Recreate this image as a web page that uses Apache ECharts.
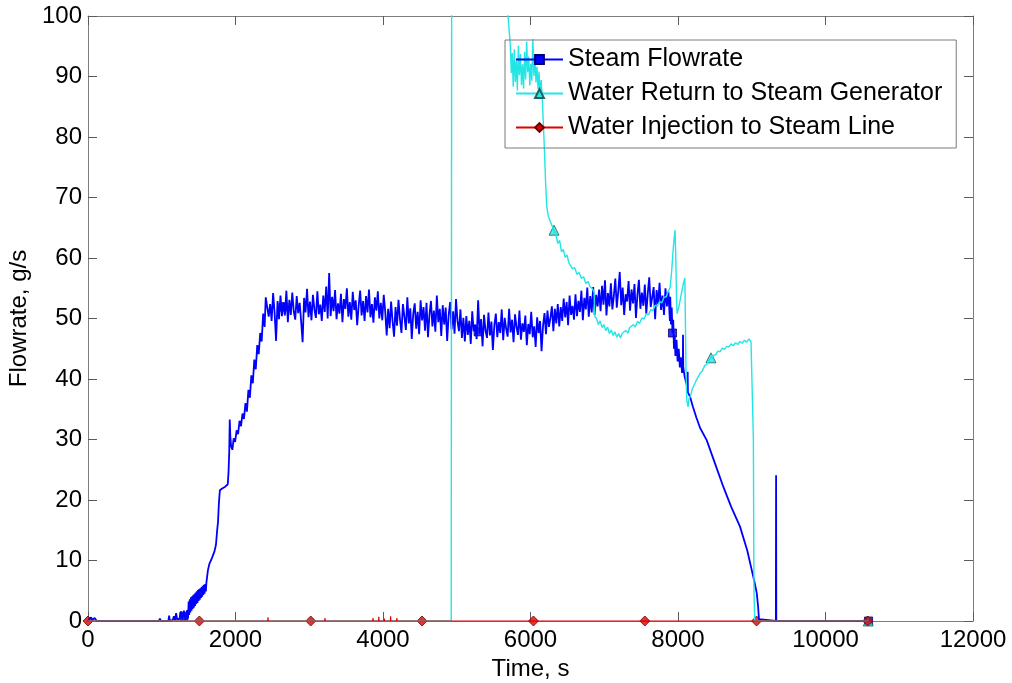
<!DOCTYPE html>
<html>
<head>
<meta charset="utf-8">
<script src="https://cdn.jsdelivr.net/npm/echarts@6/dist/echarts.min.js"></script>
<style>
  html, body { margin: 0; padding: 0; background: #ffffff; }
  #chart { width: 1012px; height: 683px; }
</style>
</head>
<body>
<div id="chart"></div>
<script>
// ---- Series names and axis titles ----
const seriesNames = [
  'Steam Flowrate',
  'Water Return to Steam Generator',
  'Water Injection to Steam Line'
];
const xTitle = 'Time, s';
const yTitle = 'Flowrate, g/s';
const xRange = [0, 12000];   // time, s
const xStep = 2000;
const yRange = [0, 100];     // g/s
const yStep = 10;

// ---- Steam flowrate: start-up ramp, [time s, g/s] ----
const steamRise = [
  [0,0],[40,0.6],[60,0.2],[90,0.5],[120,0],[290,0],[300,0.3],[310,0],[960,0],[975,0.4],[990,0],
  [1090,0],[1100,0.9],[1110,0],[1150,0.2],[1165,0.8],[1180,0.1],[1195,1.3],[1210,0.2],[1240,0.4],
  [1260,1.6],[1280,0.3],[1300,1.7],[1320,0.2],[1345,1.8],[1356,0.4],[1365,3.2],[1372,1.0],[1380,3.6],
  [1388,1.4],[1396,3.9],[1404,1.7],[1412,4.1],[1420,2.0],[1428,4.3],[1436,2.2],[1444,4.5],[1452,2.5],
  [1460,4.7],[1468,2.8],[1476,4.9],[1484,3.0],[1492,5.1],[1500,3.3],[1508,5.3],[1516,3.5],[1524,5.4],
  [1532,3.8],[1540,5.6],[1548,4.0],[1556,5.8],[1564,4.3],[1572,6.0],[1580,4.5],[1590,6.1],[1598,4.9],
  [1605,6.3],[1612,7.0],[1625,8.3],[1645,9.4],[1680,10.4],
  [1715,11.5],[1735,12.6],[1750,14.8],[1763,16.4],[1775,19.5],[1788,21.6],[1820,21.9],[1860,22.2],
  [1895,22.6],[1905,24.5],[1915,27.8],[1922,33.3],[1930,30.5],[1940,28.9],[1958,28.3],[1975,30.2],
  [1995,29.6],[2015,31.5],[2035,30.9],[2055,33.1],[2075,32.2],[2095,34.3],[2115,33.4],[2135,36.0],
  [2155,34.6],[2175,38.2],[2195,36.9],[2215,40.6],[2235,39.3],[2255,43.2],[2275,41.6],[2295,45.6],
  [2315,44.1],[2335,47.6],[2355,46.2],[2375,50.8],[2395,48.6],[2410,53.5]
];

// ---- Steam flowrate: steady period, logged every 20 s from 2430 s ----
const steamSteadyStart = 2430;
const steamSteadyStep = 20;
const steamSteady = [
  // 2430 - 2690
  53.6,50.3,52.4,49.6,54.2,51.0,46.3,52.9,49.9,53.8,50.4,52.7,50.5,54.6,
  // 2710 - 4030
  49.4,53.1,50.6,54.3,51.2,49.8,53.7,50.9,52.6,49.5,
  46.1,53.4,51.0,54.9,50.2,52.8,49.7,53.9,51.5,50.1,
  54.5,50.7,52.3,49.6,53.8,51.1,55.3,50.0,57.5,50.4,
  53.6,51.2,54.7,49.9,52.5,50.8,54.1,49.4,53.2,51.6,
  55.0,50.3,52.7,49.8,54.4,51.4,53.0,48.9,52.1,54.6,
  50.5,52.9,49.6,53.7,51.0,54.8,50.2,52.4,49.3,53.5,
  51.3,54.5,50.0,52.6,49.7,53.9,51.2,
  // 4050 - 5090
  47.2,51.6,48.4,52.8,49.5,47.0,51.9,48.8,53.1,49.9,
  47.6,52.4,50.3,48.1,53.5,49.2,51.7,46.6,50.8,52.5,
  48.3,51.1,47.4,53.0,49.7,51.9,48.0,52.6,46.9,50.6,
  52.9,48.7,51.3,47.8,53.8,49.4,51.6,47.1,52.2,49.0,
  51.8,46.3,50.5,52.7,48.2,51.2,47.5,53.2,49.6,47.9,
  51.5,46.8,50.1,
  // 5110 - 6190
  46.2,50.4,47.3,49.6,45.8,51.2,47.9,49.0,46.6,53.0,
  47.5,49.9,45.4,50.6,48.0,46.8,51.0,47.2,49.5,44.8,
  48.9,50.8,46.9,49.4,47.6,51.5,46.4,50.1,48.3,47.0,
  51.6,47.7,49.8,46.1,50.7,48.6,47.3,51.3,46.5,49.2,
  47.8,50.5,45.6,49.1,47.4,51.1,46.9,48.7,45.3,50.2,
  47.6,49.6,44.6,48.8,50.9,
  // 6210 - 6930
  47.4,51.3,48.6,50.1,52.0,47.9,51.6,49.2,52.4,48.7,
  51.9,49.6,53.3,50.2,52.7,48.9,53.8,50.6,52.1,49.8,
  54.0,50.4,52.9,51.1,54.6,49.7,53.4,51.5,55.1,50.3,
  53.7,51.0,55.2,50.6,53.9,52.0,54.8,
  // 6950 - 7890
  51.2,55.4,52.3,56.3,50.5,54.2,52.0,55.8,51.5,53.7,
  56.6,51.8,54.5,57.7,52.2,55.1,50.6,54.0,52.8,56.2,
  51.3,54.8,52.5,55.7,50.1,53.9,56.4,51.6,54.3,52.1,
  55.6,50.8,54.1,56.8,51.9,53.5,55.2,49.9,54.7,52.4,
  55.9,51.4,53.8,50.6,55.0,52.0,54.4,49.6
];

// ---- Steam flowrate: shutdown, [time s, g/s] ----
const steamFall = [
  [7895,53.6],[7905,49.0],[7915,51.8],[7925,47.6],[7935,49.8],[7945,45.0],[7955,47.2],[7965,43.8],
  [7980,46.5],[7995,42.9],[8010,45.0],[8025,41.9],[8040,43.6],[8055,41.0],[8066,42.2],[8068,47.3],
  [8071,42.0],[8090,40.4],[8110,39.4],[8128,38.6],[8131,41.2],[8134,37.8],[8163,37.1],[8200,35.5],
  [8250,33.6],[8300,31.9],[8389,29.9],[8500,26.1],[8614,22.2],[8720,18.9],[8841,15.6],[8940,11.6],
  [9021,7.3],[9045,6.0],[9068,4.6],[9086,2.4],[9098,0.3],[9110,0],[9327,0],[9330,24.1],[9333,0],
  [10584,0]
];

// ---- Water return to steam generator, [time s, g/s] (105 = above the axis top) ----
const waterReturn = [
  [0,0],[4925,0],[4931,105],[5688,105],[5698,99.6],[5712,97.4],[5726,95.2],[5740,90.6],[5752,93.9],
  [5766,88.3],[5780,94.5],[5794,89.1],[5808,92.6],[5822,87.7],[5836,95.1],[5850,90.2],[5864,93.7],
  [5878,88.6],[5892,92.0],[5906,88.0],[5920,94.1],[5934,89.5],[5948,95.8],[5962,90.7],[5976,93.3],
  [5990,88.5],[6004,92.1],[6018,89.3],[6032,96.2],[6046,90.1],[6060,93.4],[6074,89.0],[6088,91.6],
  [6102,87.9],[6116,90.8],[6130,87.2],[6145,89.4],[6160,86.3],[6175,82.0],[6190,77.5],[6205,72.4],
  [6220,68.6],[6240,67.0],[6265,66.1],[6290,65.8],[6319,64.6],[6345,63.8],[6370,62.4],[6395,62.9],
  [6420,61.0],[6445,61.4],[6470,60.1],[6495,60.5],[6520,59.2],[6545,59.5],[6570,58.2],[6600,58.4],
  [6630,57.3],[6660,57.6],[6690,56.6],[6720,56.9],[6750,55.8],[6780,56.1],[6810,55.2],[6840,54.9],
  [6862,54.3],[6872,50.4],[6895,50.0],[6920,49.0],[6945,49.6],[6970,48.5],[6995,49.0],[7020,48.0],
  [7045,48.6],[7070,47.5],[7095,48.1],[7120,47.2],[7145,47.8],[7170,46.9],[7195,47.5],[7220,46.8],
  [7245,47.6],[7270,47.3],[7295,48.0],[7320,47.6],[7345,48.5],[7370,48.2],[7395,49.0],[7420,48.6],
  [7450,49.5],[7480,49.2],[7510,50.1],[7540,49.9],[7570,50.8],[7600,50.6],[7630,51.5],[7660,51.3],
  [7690,52.2],[7720,52.0],[7750,52.8],[7780,52.6],[7810,53.5],[7840,53.6],[7870,54.5],[7895,55.2],
  [7915,58.0],[7935,61.5],[7950,63.5],[7960,64.6],[7970,60.0],[7980,53.5],[7988,50.8],[8010,51.8],
  [8035,53.4],[8060,55.0],[8080,56.1],[8093,56.7],[8100,50.0],[8108,42.0],[8118,36.6],[8136,35.4],
  [8150,36.8],[8170,37.2],[8195,38.4],[8220,38.6],[8245,39.7],[8270,40.0],[8300,41.0],[8330,41.3],
  [8360,42.2],[8390,42.4],[8420,43.1],[8450,43.5],[8480,43.9],[8510,44.0],[8540,44.6],[8570,44.5],
  [8600,45.1],[8630,44.9],[8660,45.4],[8690,45.3],[8720,45.8],[8750,45.5],[8780,46.0],[8810,45.7],
  [8840,46.2],[8870,45.9],[8900,46.4],[8930,46.1],[8960,46.6],[8990,46.2],[9015,46.5],[9022,30.0],
  [9030,5.0],[9040,0],[10584,0]
];

// ---- Water injection to steam line, [time s, g/s] ----
const waterInjection = [
  [0,0],[2438,0],[2441,0.6],[2444,0],[3210,0],[3213,0.5],[3216,0],[3862,0],[3865,0.5],[3868,0],
  [3940,0],[3943,0.7],[3946,0],[4015,0],[4018,0.4],[4021,0],[4100,0],[4103,0.8],[4106,0],
  [4185,0],[4188,0.5],[4191,0],[10620,0]
];

// ---- Marker positions on each trace, [time s, g/s] ----
const steamMarks = [[1300,0.8],[2644,51.9],[5290,47.8],[7925,47.6],[10584,0]];
const returnMarks = [[6319,64.6],[8447,43.5],[10580,0]];
const injectionMarks = [[0,0],[1510,0],[3020,0],[4530,0],[6040,0],[7550,0],[9065,0],[10572,0]];

// Steam flowrate trace assembled from its three logged pieces
const steamFlow = steamRise
  .concat(steamSteady.map((v, i) => [steamSteadyStart + i * steamSteadyStep, v]))
  .concat(steamFall);

const FONT = '"Liberation Sans", Arial, Helvetica, sans-serif';
const AXIS_COLOR = '#7d7d7d';

const colors = {
  steam: '#0000ff', steamEdge: '#00006e',
  ret: '#22e6e6', retEdge: '#1f5f5f',
  inj: '#e00000', injEdge: '#6e0000'
};

function frameAxis(extra) {
  return Object.assign({
    type: 'value',
    axisLine: { show: true, onZero: false, lineStyle: { color: AXIS_COLOR, width: 1 } },
    axisTick: { show: true, inside: true, length: 9, lineStyle: { color: '#5a5a5a', width: 1 } },
    splitLine: { show: false },
    axisLabel: { show: false }
  }, extra);
}

const plainNumber = v => String(v);

const chart = echarts.init(document.getElementById('chart'), null, { renderer: 'canvas' });

chart.setOption({
  animation: false,
  backgroundColor: '#ffffff',
  grid: { left: 88, right: 39, top: 16, bottom: 62, containLabel: false, outerBoundsMode: 'none' },
  legend: {
    data: seriesNames,
    orient: 'vertical',
    left: 505,
    top: 40,
    padding: [7, 14, 8, 10],
    itemWidth: 47,
    itemHeight: 11,
    itemGap: 9,
    borderColor: '#7a7a7a',
    borderWidth: 1,
    selectedMode: false,
    textStyle: { fontFamily: FONT, fontSize: 25, lineHeight: 24, color: '#000000' }
  },
  xAxis: [
    frameAxis({
      position: 'bottom', min: xRange[0], max: xRange[1], interval: xStep,
      name: xTitle, nameLocation: 'middle', nameGap: 24,
      nameTextStyle: { fontFamily: FONT, fontSize: 24, color: '#000000' },
      axisLabel: { show: true, fontFamily: FONT, fontSize: 24, color: '#000000', margin: 7, formatter: plainNumber }
    }),
    frameAxis({ position: 'top', min: xRange[0], max: xRange[1], interval: xStep })
  ],
  yAxis: [
    frameAxis({
      position: 'left', min: yRange[0], max: yRange[1], interval: yStep,
      name: yTitle, nameLocation: 'middle', nameGap: 51,
      nameTextStyle: { fontFamily: FONT, fontSize: 24, color: '#000000' },
      axisLabel: { show: true, fontFamily: FONT, fontSize: 24, color: '#000000', margin: 6, formatter: plainNumber }
    }),
    frameAxis({ position: 'right', min: yRange[0], max: yRange[1], interval: yStep })
  ],
  series: [
    {
      name: seriesNames[0], type: 'line', data: steamFlow,
      symbol: 'rect', showSymbol: false, clip: true,
      lineStyle: { color: colors.steam, width: 1.8 },
      itemStyle: { color: colors.steam, borderColor: colors.steamEdge, borderWidth: 1 }
    },
    {
      name: 'steam-marks', type: 'scatter', data: steamMarks, symbol: 'rect', symbolSize: 8, clip: false,
      itemStyle: { color: colors.steam, borderColor: colors.steamEdge, borderWidth: 1 }, silent: true
    },
    {
      name: seriesNames[1], type: 'line', data: waterReturn,
      symbol: 'triangle', showSymbol: false, clip: true,
      lineStyle: { color: colors.ret, width: 1.4 },
      itemStyle: { color: colors.ret, borderColor: colors.retEdge, borderWidth: 1 }
    },
    {
      name: 'return-marks', type: 'scatter', data: returnMarks, symbol: 'triangle', symbolSize: 10, clip: false,
      itemStyle: { color: colors.ret, borderColor: colors.retEdge, borderWidth: 1 }, silent: true
    },
    {
      name: seriesNames[2], type: 'line', data: waterInjection,
      symbol: 'diamond', showSymbol: false, clip: false,
      lineStyle: { color: colors.inj, width: 1.2 },
      itemStyle: { color: colors.inj, borderColor: colors.injEdge, borderWidth: 1 }
    },
    {
      name: 'injection-marks', type: 'scatter', data: injectionMarks, symbol: 'diamond', symbolSize: 10, clip: false,
      itemStyle: { color: colors.inj, borderColor: colors.injEdge, borderWidth: 1 }, silent: true
    }
  ]
});
</script>
</body>
</html>
